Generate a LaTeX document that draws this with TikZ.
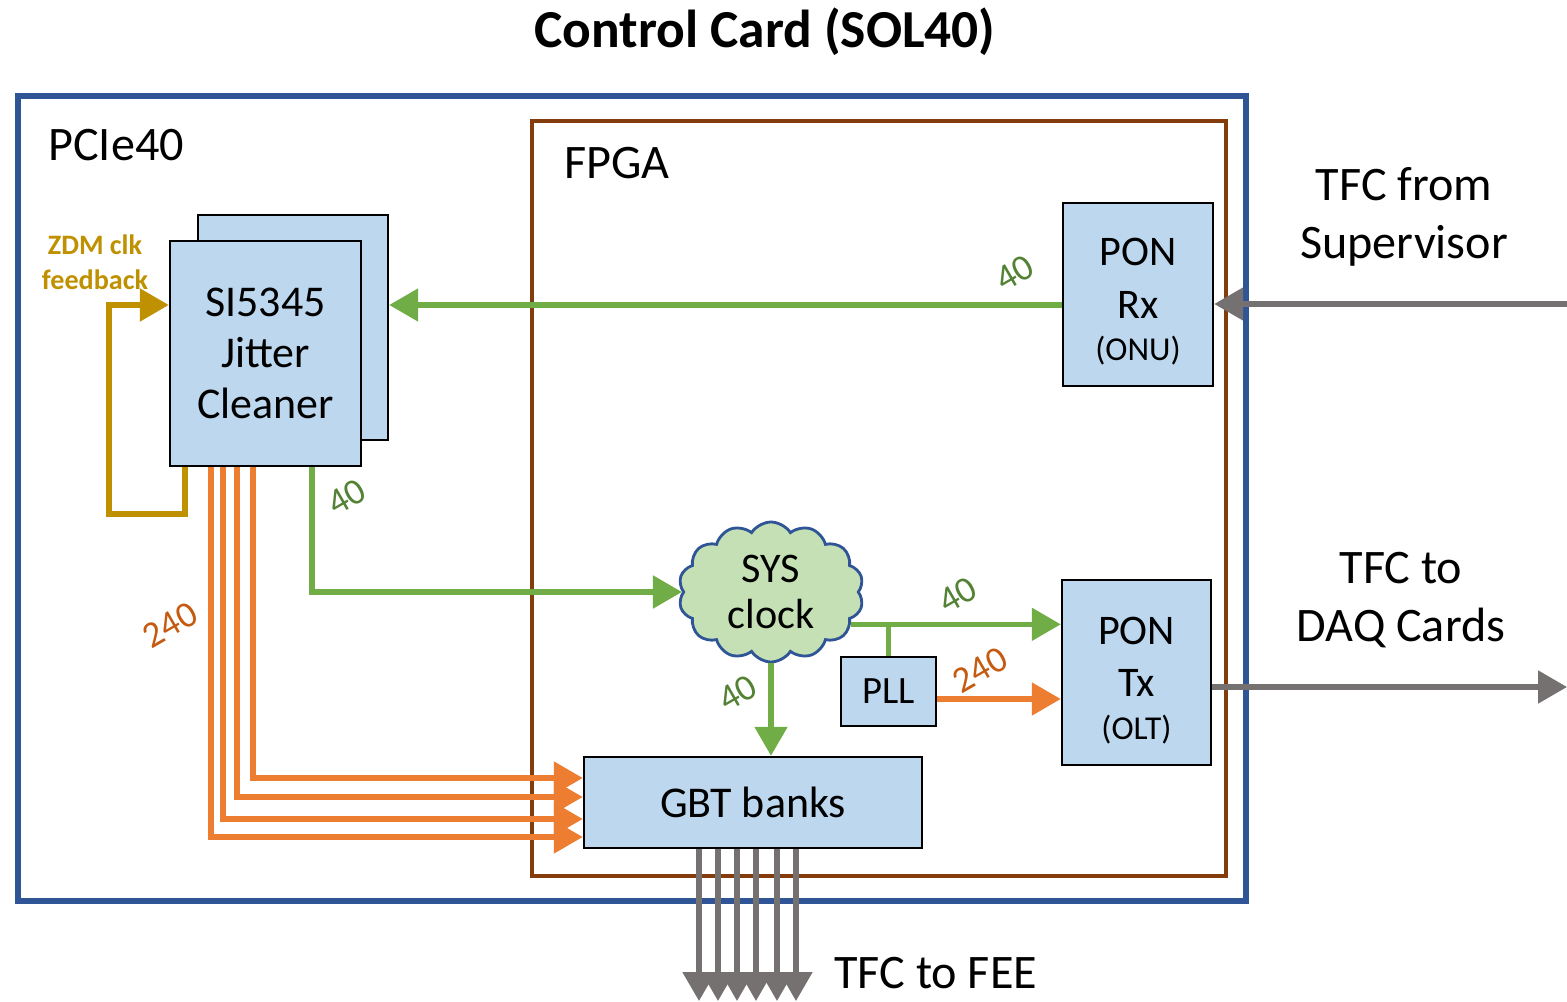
\documentclass[tikz,border=0pt]{standalone}
\usepackage{fontspec}
\setmainfont{Carlito}
\usetikzlibrary{arrows.meta,positioning,calc,shapes.symbols}
\definecolor{pcieBlue}{HTML}{2F5597}
\definecolor{fpgaBrown}{HTML}{843C0C}
\definecolor{boxFill}{HTML}{BDD7EE}
\definecolor{cloudFill}{HTML}{C5E0B4}
\definecolor{clkGreen}{HTML}{70AD47}
\definecolor{clkGreenText}{HTML}{548235}
\definecolor{fastOrange}{HTML}{ED7D31}
\definecolor{fastOrangeText}{HTML}{C55A11}
\definecolor{zdmGold}{HTML}{BF9000}
\definecolor{tfcGrey}{HTML}{767171}
\tikzset{
    block/.style={
        rectangle,
        draw=black,
        line width=0.7pt,
        fill=boxFill,
        align=center,
        inner sep=0pt
    },
    frame/.style={
        rectangle,
        inner sep=0pt
    },
    % Text
    bigText/.style={font=\fontsize{13.7}{16.5}\selectfont, align=center},
    rateLabel/.style={font=\fontsize{10.5}{12}\selectfont, rotate=30, inner sep=1pt},
    % Arrows
    lineBase/.style={line width=1.5pt, -{Triangle[length=2.9mm,width=3.2mm]}},
    clkArrow/.style={lineBase, draw=clkGreen},
    fastArrow/.style={lineBase, draw=fastOrange},
    zdmArrow/.style={lineBase, draw=zdmGold, line width=1.6pt},
    tfcArrow/.style={lineBase, draw=tfcGrey}
}
\begin{document}
\begin{tikzpicture}
\useasboundingbox (0,0) rectangle (15.67,10.01);

% Title
\node[font=\fontsize{15.2}{18}\selectfont\bfseries] (title) at (7.65,9.69) {Control Card (SOL40)};

% Frames
\node[frame, draw=pcieBlue, line width=1.8pt, minimum width=12.28cm, minimum height=8.05cm] (pcie) at (6.32,5.025) {};
\node[frame, draw=fpgaBrown, line width=0.9pt, minimum width=6.94cm, minimum height=7.55cm] (fpga) at (8.79,5.025) {};
\node[bigText, anchor=west] (pcieLabel) at (0.36,8.56) {PCIe40};
\node[bigText, anchor=west] (fpgaLabel) at (5.52,8.38) {FPGA};

% Jitter cleaner
\node[block, minimum width=1.90cm, minimum height=2.25cm] (cleanerBack) at (2.93,6.735) {};
\node[block, minimum width=1.91cm, minimum height=2.25cm, font=\fontsize{12.5}{14.6}\selectfont] (cleaner) at (2.655,6.475) {SI5345\\Jitter\\Cleaner};
\node[font=\fontsize{8}{10}\selectfont\bfseries, text=zdmGold, align=center] (zdmLabel) at (0.95,7.385) {ZDM clk\\feedback};

% PON
\node[block, minimum width=1.50cm, minimum height=1.83cm, font=\fontsize{12}{14.8}\selectfont] (ponRx) at (11.38,7.065)
    {\rule{0pt}{12pt}PON\\Rx\\[-2.7pt]{\fontsize{9.5}{11}\selectfont (ONU)}};
\node[block, minimum width=1.49cm, minimum height=1.85cm, font=\fontsize{12}{14.8}\selectfont] (ponTx) at (11.365,3.285)
    {\rule{0pt}{12.5pt}PON\\Tx\\[-2.7pt]{\fontsize{9.5}{11}\selectfont (OLT)}};

% Clocking inside FPGA
\node[cloud, cloud puffs=14, cloud puff arc=115, aspect=1.3, draw=pcieBlue, line width=0.8pt, fill=cloudFill,
      minimum width=1.85cm, minimum height=1.40cm, inner sep=0pt, align=center,
      font=\fontsize{12}{13.2}\selectfont] (sysclk) at (7.71,4.09) {SYS\\clock};
\node[block, minimum width=0.95cm, minimum height=0.69cm, font=\fontsize{11}{13}\selectfont] (pll) at (8.885,3.095) {PLL};
\node[block, minimum width=3.38cm, minimum height=0.91cm, font=\fontsize{12.5}{15}\selectfont] (gbt) at (7.53,1.985) {GBT banks};

% External labels
\node[bigText] (tfcInLabel) at (14.04,7.84) {TFC from\\Supervisor};
\node[bigText] (tfcOutLabel) at (14.01,4.01) {TFC to\\DAQ Cards};
\node[bigText, anchor=west] (feeLabel) at (8.22,0.28) {TFC to FEE};
\coordinate (tfcIn) at (15.67,6.97);
\coordinate (tfcOut) at (15.67,3.14);
\coordinate (fee) at (7.53,0);

% Clock connections
\draw[clkArrow] ([yshift=-1.05mm]ponRx.west) -- ([yshift=-1.05mm]ponRx.west -| cleanerBack.east);
\draw[clkArrow] ([xshift=4.65mm]cleaner.south) |- (sysclk.west);
\draw[clkArrow] (sysclk.-22) -- (sysclk.-22 -| ponTx.west);
\draw[line width=1.5pt, draw=clkGreen] (pll.north) -- (pll.north |- sysclk.-22);
\draw[clkArrow] (sysclk.south) -- (sysclk.south |- gbt.north);
\draw[fastArrow] ([yshift=-0.75mm]pll.east) -- ([yshift=-0.75mm]pll.east -| ponTx.west);
\foreach \dx/\dy in {-5.45mm/-3.45mm, -4.25mm/-1.65mm, -2.85mm/0.55mm, -1.25mm/2.45mm}
    \draw[fastArrow] ([xshift=\dx]cleaner.south) |- ([yshift=\dy]gbt.west);
\draw[zdmArrow] ([xshift=-8.05mm]cleaner.south) |- ([xshift=-6mm, yshift=-4.7mm]cleaner.south west)
    |- ([yshift=4.85mm]cleaner.west);

% TFC connections
\draw[tfcArrow] (tfcIn) -- (ponRx.east |- tfcIn);
\draw[tfcArrow] (ponTx.east |- tfcOut) -- (tfcOut);
\foreach \dx in {-5.4mm, -3.5mm, -1.6mm, 0.3mm, 2.4mm, 4.3mm}
    \draw[tfcArrow] ([xshift=\dx]gbt.south) -- ([xshift=\dx]gbt.south |- fee);

% Rate labels
\node[rateLabel, text=clkGreenText] (rxRate) at (10.15,7.28) {40};
\node[rateLabel, text=clkGreenText] (sysRate) at (3.47,5.04) {40};
\node[rateLabel, text=clkGreenText] (txRate) at (9.58,4.06) {40};
\node[rateLabel, text=clkGreenText] (gbtRate) at (7.38,3.08) {40};
\node[rateLabel, text=fastOrangeText] (fastRate) at (1.70,3.76) {240};
\node[rateLabel, text=fastOrangeText] (pllRate) at (9.80,3.31) {240};
\end{tikzpicture}
\end{document}
